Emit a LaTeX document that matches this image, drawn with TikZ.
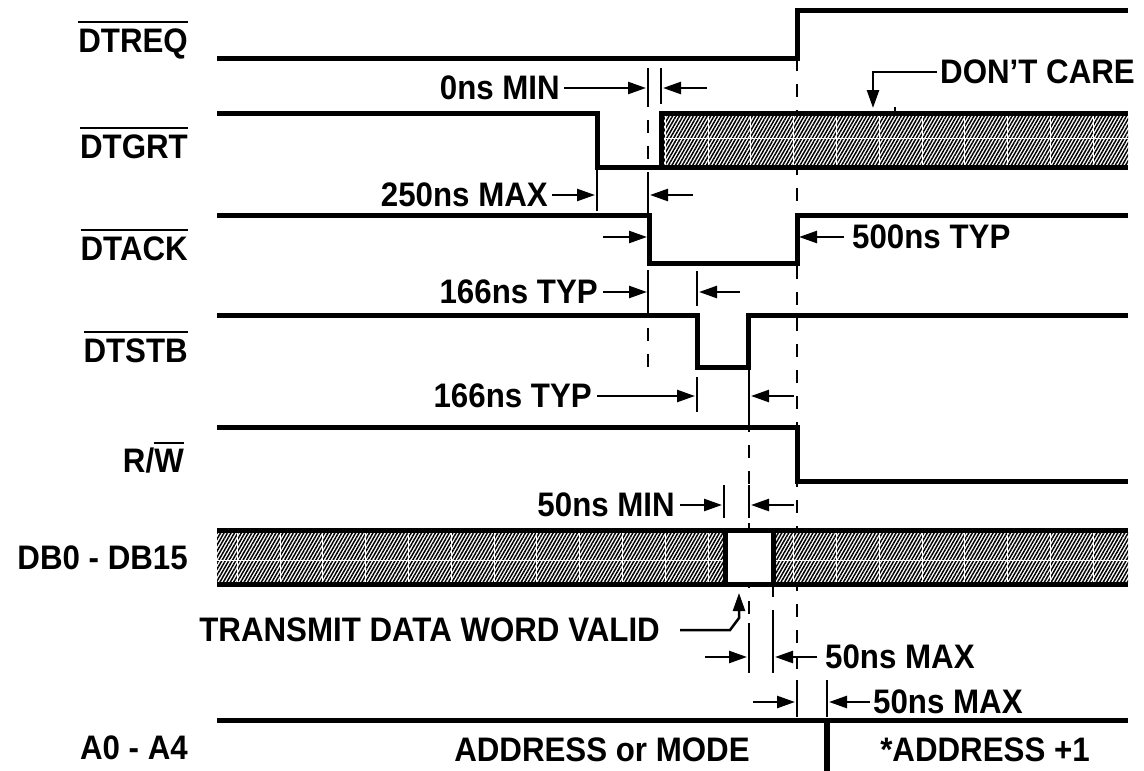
\documentclass[tikz,border=0pt]{standalone}
\usepackage{fontspec}
\setmainfont{Liberation Sans}
\newfontfamily\labelFont[FakeStretch=0.92]{Liberation Sans}
\usetikzlibrary{arrows.meta,patterns.meta}

\newcommand\sigbar[1]{\vbox{\hrule height 2pt \kern 5pt \hbox{#1}}}

\tikzset{
  wave/.style={line width=5pt},
  edgeBar/.style={line width=2.5pt},
  guide/.style={line width=2.5pt, dash pattern=on 13pt off 13pt},
  dim/.style={line width=2.5pt, -{Triangle[length=18pt,width=12pt]}},
  txt/.style={font=\labelFont\bfseries\fontsize{34}{34}\selectfont, inner sep=0pt},
  sigName/.style={txt, anchor=east},
  hatch/.style={pattern={Lines[angle=60,distance=3pt,line width=1.5pt]}},
  hatchGrid/.style={white, line width=1pt},
}

\begin{document}
\begin{tikzpicture}[x=1pt,y=-1pt]
  \useasboundingbox (0,0) rectangle (1144,771);
  % Guide lines
  \draw[guide] (648,68) -- (648,368);
  \draw[guide] (797,58) -- (797,680);
  \draw[guide] (749,367) -- (749,673);
  \draw[guide] (773,584) -- (773,673);
  % Don't care areas
  \begin{scope}
    \clip (663,115) rectangle (1128,165) (217,532) rectangle (725,582) (773,532) rectangle (1128,582);
    \fill[white] (0,0) rectangle (1144,771);
    \fill[hatch] (0,0) rectangle (1144,771);
    \foreach \k in {-11,...,9}
      \draw[hatchGrid] ({708+42.8*\k},100) -- ({708+42.8*\k},600);
    \draw[hatchGrid, line width=0.5pt] (0,138) -- (1144,138) (0,560) -- (1144,560);
  \end{scope}
  \fill[white] (727,532) rectangle (771,582);
  % Signals
  \draw[wave] (217,58) -- (797,58) -- (797,10) -- (1128,10);
  \draw[wave] (217,113) -- (597,113) -- (597,167) -- (661,167) -- (661,113) -- (1128,113);
  \draw[wave] (661,167) -- (1128,167);
  \draw[wave] (217,215) -- (649,215) -- (649,263) -- (797,263) -- (797,215) -- (1128,215);
  \draw[wave] (217,315) -- (697,315) -- (697,367) -- (748,367) -- (748,315) -- (1128,315);
  \draw[wave] (217,427) -- (797,427) -- (797,481) -- (1128,481);
  \draw[wave] (217,530) -- (1128,530);
  \draw[wave] (217,584) -- (1128,584);
  \draw[wave] (725,530) -- (725,584);
  \draw[wave] (773,530) -- (773,584);
  \draw[wave] (217,720) -- (1128,720);
  \draw[wave, line width=6pt] (827,720) -- (827,771);
  % Edge bars
  \draw[edgeBar] (648,68) -- (648,104);
  \draw[edgeBar] (661,68) -- (661,104);
  \draw[edgeBar] (895,107) -- (895,113);
  \draw[edgeBar] (597,167) -- (597,211);
  \draw[edgeBar] (648,180) -- (648,215);
  \draw[edgeBar] (648,270) -- (648,307);
  \draw[edgeBar] (697,271) -- (697,306);
  \draw[edgeBar] (697,377) -- (697,412);
  \draw[edgeBar] (749,378) -- (749,427);
  \draw[edgeBar] (724,485) -- (724,518);
  \draw[edgeBar] (749,485) -- (749,518);
  \draw[edgeBar] (749,623) -- (749,673);
  \draw[edgeBar] (773,623) -- (773,673);
  \draw[edgeBar] (797,680) -- (797,717);
  \draw[edgeBar] (827,680) -- (827,717);
  % Signal names
  \node[sigName] (reqName) at (188,40) {\sigbar{DTREQ}};
  \node[sigName] (grtName) at (188,143) {\sigbar{DTGRT}};
  \node[sigName] (ackName) at (188,245) {\sigbar{DTACK}};
  \node[sigName] (stbName) at (188,347) {\sigbar{DTSTB}};
  \node[sigName] (rwName) at (184,458) {R/\sigbar{W}};
  \node[sigName] (dbName) at (188,558) {DB0 - DB15};
  \node[sigName] (addrName) at (188,748) {A0 - A4};
  % Timing labels
  \node[txt, anchor=east] (grantMin) at (560,88) {0ns MIN};
  \draw[dim] ([xshift=4pt]grantMin.east) -- (646,88);
  \draw[dim] (707,88) -- (663,88);
  \node[txt, anchor=west] (dontCare) at (940,72) {DON’T CARE};
  \draw[dim] ([xshift=-3pt]dontCare.west) -- (873,72) -- (873,108);
  \node[txt, anchor=east] (grantMax) at (548,195) {250ns MAX};
  \draw[dim] ([xshift=4pt]grantMax.east) -- (595,195);
  \draw[dim] (693,195) -- (650,195);
  \draw[dim] (603,237) -- (647,237);
  \node[txt, anchor=west] (ackTyp) at (852,237) {500ns TYP};
  \draw[dim] ([xshift=-8pt]ackTyp.west) -- (799,237);
  \node[txt, anchor=east] (strobeDelay) at (598,292) {166ns TYP};
  \draw[dim] ([xshift=5pt]strobeDelay.east) -- (647,292);
  \draw[dim] (740,292) -- (699,292);
  \node[txt, anchor=east] (strobeWidth) at (592,396) {166ns TYP};
  \draw[dim] ([xshift=5pt]strobeWidth.east) -- (695,396);
  \draw[dim] (794,396) -- (751,396);
  \node[txt, anchor=east] (rwMin) at (675,505) {50ns MIN};
  \draw[dim] ([xshift=5pt]rwMin.east) -- (722,505);
  \draw[dim] (794,505) -- (751,505);
  \node[txt, anchor=east] (dataValid) at (660,630) {TRANSMIT DATA WORD VALID};
  \draw[dim] ([xshift=20pt]dataValid.east) -- (730,630) -- (739,618) -- (739,593);
  \draw[dim] (705,657) -- (747,657);
  \node[txt, anchor=west] (holdMax) at (825,657) {50ns MAX};
  \draw[dim] ([xshift=-8pt]holdMax.west) -- (775,657);
  \draw[dim] (753,702) -- (795,702);
  \node[txt, anchor=west] (addrMax) at (873,702) {50ns MAX};
  \draw[dim] ([xshift=-3pt]addrMax.west) -- (829,702);
  \node[txt] (addrMode) at (602,750) {ADDRESS or MODE};
  \node[txt] (addrNext) at (985,750) {*ADDRESS +1};
\end{tikzpicture}
\end{document}
